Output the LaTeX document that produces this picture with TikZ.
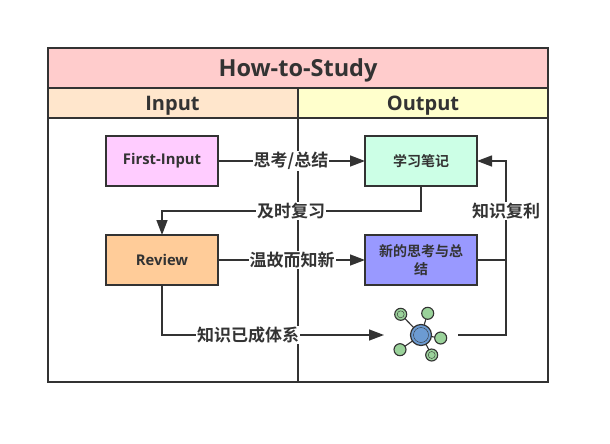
\documentclass[tikz,border=0pt]{standalone}
\usepackage{fontspec}
\setmainfont{Open Sans}[BoldFont={Open Sans Bold}]
\newfontfamily\cjk{Noto Sans CJK SC}[BoldFont={Noto Sans CJK SC Bold}]
\usetikzlibrary{arrows.meta}
\definecolor{ink}{HTML}{333333}
\definecolor{c1}{HTML}{FFCCCC}
\definecolor{c2}{HTML}{FFE6CC}
\definecolor{c3}{HTML}{FFFFCC}
\definecolor{c4}{HTML}{FFCCFF}
\definecolor{c5}{HTML}{CCFFE6}
\definecolor{c6}{HTML}{FFCC99}
\definecolor{c7}{HTML}{9999FF}
\definecolor{sat}{HTML}{9AD29A}
\definecolor{hub}{HTML}{6C9BD2}
\tikzset{
 x=1pt,y=-1pt,
 every node/.style={text=ink,font=\bfseries},
 band/.style={draw=ink,line width=1.6pt,minimum height=#1,inner sep=0pt,outer sep=0pt},
 box/.style={draw=ink,line width=1.6pt,minimum width=112pt,minimum height=50pt,inner sep=2pt,outer sep=0pt,font=\fontsize{14.8}{18}\selectfont\bfseries,align=center},
 cjkbox/.style={box,font=\fontsize{14}{18}\selectfont\cjk\bfseries},
 link/.style={draw=ink,line width=1.4pt},
 linka/.style={link,-{Triangle[length=15pt,width=11pt,fill=ink]}},
 lab/.style={fill=white,inner sep=1pt,font=\fontsize{17}{20}\selectfont\cjk\bfseries},
 satn/.style={circle,draw=ink,line width=1.1pt,fill=sat,minimum size=12pt,inner sep=0pt,outer sep=0pt},
}
\begin{document}
\begin{tikzpicture}
\useasboundingbox (0,0) rectangle (610,444);
\fill[white] (0,0) rectangle (610,444);
\node[band=40pt,minimum width=500pt,fill=c1] (title) at (298,68) {};
\node[font=\fontsize{23.5}{26}\selectfont\bfseries] (titlet) at (298,70) {How-to-Study};
\node[band=30pt,minimum width=250pt,fill=c2] (input) at (173,103) {};
\node[band=30pt,minimum width=250pt,fill=c3] (output) at (423,103) {};
\node[font=\fontsize{20}{24}\selectfont\bfseries] (inputt) at (172.5,106) {Input};
\node[font=\fontsize{20}{24}\selectfont\bfseries] (outputt) at (423,106) {Output};
\node[band=264pt,minimum width=250pt] (left) at (173,250) {};
\node[band=264pt,minimum width=250pt] (right) at (423,250) {};
\node[box,fill=c4] (first) at (162,161) {\raisebox{-1.5pt}{First-Input}};
\node[box,fill=c6] (review) at (162,260) {Review};
\node[cjkbox,fill=c5] (note) at (421,161) {学习笔记};
\node[cjkbox,fill=c7] (new) at (421,260) {新的思考与总\\结};
% icon
\coordinate (hubc) at (421,335);
\node[satn] (s1) at (400.7,314.3) {};
\node[satn] (s2) at (427.7,313.3) {};
\node[satn] (s3) at (440.7,338) {};
\node[satn] (s4) at (431.7,355) {};
\node[satn] (s5) at (400,349.7) {};
\foreach \s in {s1,s2,s3,s4,s5} \draw[ink,line width=1.1pt] (hubc) -- (\s);
\node[circle,draw=ink,line width=1.2pt,fill=hub,minimum size=21pt,inner sep=0pt,outer sep=0pt] (hub) at (hubc) {};
\draw[ink,line width=.4pt] (hubc) circle (7.5pt);
\draw[ink,line width=.4pt] (s1) circle (3.5pt) (s4) circle (3.5pt);
\coordinate (iconin) at (384,335);
\coordinate (iconout) at (458,335);
\coordinate (j1) at (506,161);
\coordinate (j2) at (506,335);
\coordinate (j3) at (421,211);
\coordinate (j4) at (162,211);
\coordinate (j5) at (162,335);
% connectors
\draw[linka] (first) -- (note);
\node[lab] (l1) at (291,161) {思考/总结};
\draw[linka] (note.south) -- (j3) -- (j4) -- (review.north);
\node[lab] (l2) at (291,211) {及时复习};
\draw[linka] (review) -- (new);
\node[lab] (l3) at (292,260) {温故而知新};
\draw[linka] (review.south) -- (j5) -- (iconin);
\node[lab] (l4) at (248,335) {知识已成体系};
\draw[link] (new) -- (new.east -| j1);
\draw[linka] (iconout) -- (j2) -- (j1) -- (note.east);
\node[lab] (l5) at (506,211) {知识复利};
\end{tikzpicture}
\end{document}
